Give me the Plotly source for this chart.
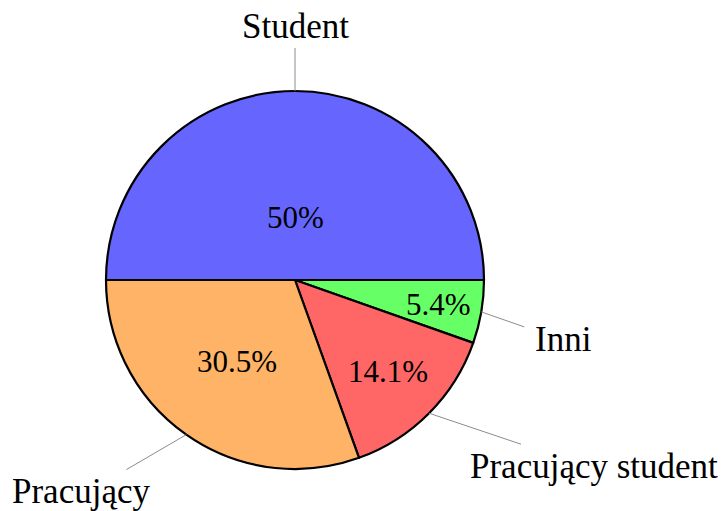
import math
import plotly.graph_objects as go

# ---- data ----
labels = ["Student", "Inni", "Pracujący student", "Pracujący"]
values = [50.0, 5.4, 14.1, 30.5]
pct_text = ["50%", "5.4%", "14.1%", "30.5%"]
colors = ["#6666ff", "#66ff66", "#ff6666", "#ffb366"]

# ---- layout / style constants (pixels) ----
W, H = 721, 511
CX, CY, R = 295, 280, 189          # pie centre and radius
START_ANGLE = 180                  # first slice starts at 9 o'clock, goes clockwise
pct_radius = [0.33, 0.77, 0.69, 0.53]          # radial fraction of % text
line_off = [(0, -43), (43, 15), (92, 31), (-60, 35)]   # leader line vector
label_off = [(0, -22), (39, 13), (73, 22), (-45, 22)]  # label centre from line end
FONT = "Liberation Serif"


def px(x):
    return x / W


def py(y):
    return 1 - y / H


fig = go.Figure(go.Pie(
    labels=labels,
    values=values,
    sort=False,
    direction="clockwise",
    rotation=270,
    marker=dict(colors=colors, line=dict(color="black", width=2.2)),
    textinfo="none",
    hoverinfo="skip",
    showlegend=False,
    domain=dict(x=[px(CX - R), px(CX + R)], y=[py(CY + R), py(CY - R)]),
))

total = sum(values)
annotations = []
shapes = []
a0 = START_ANGLE
for i, v in enumerate(values):
    span = 360 * v / total
    mid = math.radians(a0 - span / 2)
    a0 -= span
    # percentage text
    tx = CX + pct_radius[i] * R * math.cos(mid)
    ty = CY - pct_radius[i] * R * math.sin(mid)
    annotations.append(dict(x=px(tx), y=py(ty), xref="paper", yref="paper",
                            text=pct_text[i], showarrow=False,
                            xanchor="center", yanchor="middle",
                            font=dict(family=FONT, size=31, color="black")))
    # leader line
    ex = CX + R * math.cos(mid)
    ey = CY - R * math.sin(mid)
    lx, ly = ex + line_off[i][0], ey + line_off[i][1]
    shapes.append(dict(type="line", xref="paper", yref="paper",
                       x0=px(ex), y0=py(ey), x1=px(lx), y1=py(ly),
                       line=dict(color="#8c8c8c", width=1)))
    # outer label
    annotations.append(dict(x=px(lx + label_off[i][0]), y=py(ly + label_off[i][1]),
                            xref="paper", yref="paper", text=labels[i],
                            showarrow=False, xanchor="center", yanchor="middle",
                            font=dict(family=FONT, size=35, color="black")))

fig.update_layout(
    width=W, height=H,
    margin=dict(l=0, r=0, t=0, b=0),
    paper_bgcolor="white", plot_bgcolor="white",
    annotations=annotations,
    shapes=shapes,
)

fig.write_html("out.html",
               config={"displayModeBar": False},
               post_script="document.body.style.margin='0';document.body.style.overflow='hidden';")
